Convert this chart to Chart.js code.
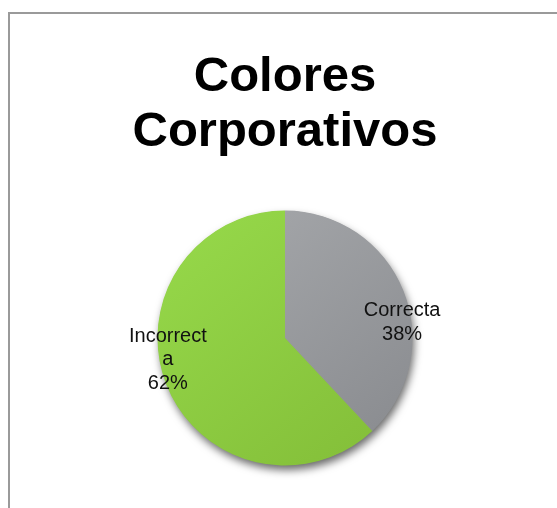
<!DOCTYPE html>
<html>
<head>
<meta charset="utf-8">
<script src="https://cdn.jsdelivr.net/npm/chart.js@4"></script>
<style>
  html, body { margin: 0; padding: 0; background: #fff; }
  #wrap { position: relative; width: 557px; height: 508px; overflow: hidden; }
  #frame { position: absolute; left: 8px; top: 12px; width: 700px; height: 700px;
           border-left: 2px solid #9a9a9a; border-top: 2px solid #9a9a9a; }
  canvas { position: absolute; left: 0; top: 0; }
</style>
</head>
<body>
<div id="wrap">
  <div id="frame"></div>
  <canvas id="c" width="557" height="508"></canvas>
</div>
<script>
// Survey result: were the corporate colours used correctly?
const titleLines = ['Colores', 'Corporativos'];
const categories = ['Correcta', 'Incorrecta'];
const values = [38, 62];
const baseColors = [['#a9abae', '#8a8c90'], ['#97da4b', '#84bf39']];

const FONT = "'Liberation Sans', Arial, sans-serif";

// Gradient fill per slice, spanning the pie's bounding square
function sliceFill(context) {
  const chart = context.chart;
  const area = chart.chartArea;
  const pair = baseColors[context.dataIndex];
  if (!area) return pair[0];
  const cx = (area.left + area.right) / 2;
  const cy = (area.top + area.bottom) / 2;
  const r = Math.min(area.width, area.height) / 2;
  const g = chart.ctx.createLinearGradient(cx - r, cy - r, cx + r * 0.6, cy + r);
  g.addColorStop(0, pair[0]);
  g.addColorStop(1, pair[1]);
  return g;
}

// Soft drop shadow behind the whole pie
const pieShadow = {
  id: 'pieShadow',
  beforeDatasetsDraw(chart) {
    const arc = chart.getDatasetMeta(0).data[0];
    if (!arc) return;
    const { x, y, outerRadius } = arc.getProps(['x', 'y', 'outerRadius'], true);
    const ctx = chart.ctx;
    ctx.save();
    ctx.shadowColor = 'rgba(0,0,0,0.6)';
    ctx.shadowBlur = 9;
    ctx.shadowOffsetX = 2;
    ctx.shadowOffsetY = 5;
    ctx.beginPath();
    ctx.arc(x, y, outerRadius - 0.5, 0, Math.PI * 2);
    ctx.fillStyle = '#8f9194';
    ctx.fill();
    ctx.restore();
  }
};

// Break a label into lines no wider than maxWidth, splitting inside words if needed
function wrapChars(ctx, text, maxWidth) {
  const lines = [];
  let cur = '';
  for (const ch of text) {
    if (cur && ctx.measureText(cur + ch).width > maxWidth) {
      lines.push(cur);
      cur = ch;
    } else {
      cur += ch;
    }
  }
  if (cur) lines.push(cur);
  return lines;
}

// Category name and percentage written inside each slice
const sliceLabels = {
  id: 'sliceLabels',
  afterDatasetsDraw(chart) {
    const meta = chart.getDatasetMeta(0);
    const data = chart.data.datasets[0].data;
    const total = data.reduce((a, b) => a + b, 0);
    const ctx = chart.ctx;
    ctx.save();
    ctx.font = '20px ' + FONT;
    ctx.fillStyle = '#111';
    ctx.textAlign = 'center';
    ctx.textBaseline = 'middle';
    const lineH = 23.5;
    meta.data.forEach((arc, i) => {
      const p = arc.getProps(['x', 'y', 'startAngle', 'endAngle', 'outerRadius'], true);
      const mid = (p.startAngle + p.endAngle) / 2 + 0.22;
      const d = p.outerRadius * 0.93;
      const lx = p.x + Math.cos(mid) * d;
      const ly = p.y + Math.sin(mid) * d + 3;
      const lines = wrapChars(ctx, chart.data.labels[i], 85);
      lines.push(Math.round(data[i] / total * 100) + '%');
      const y0 = ly - (lines.length - 1) * lineH / 2;
      lines.forEach((t, k) => ctx.fillText(t, lx, y0 + k * lineH));
    });
    ctx.restore();
  }
};

new Chart(document.getElementById('c'), {
  type: 'pie',
  data: {
    labels: categories,
    datasets: [{
      data: values,
      backgroundColor: sliceFill,
      borderWidth: 0,
      hoverOffset: 0
    }]
  },
  options: {
    responsive: false,
    animation: false,
    layout: { padding: { top: 0, left: 13, right: 0, bottom: 42.5 } },
    plugins: {
      legend: { display: false },
      tooltip: { enabled: false },
      title: {
        display: true,
        text: titleLines,
        color: '#000',
        font: { family: FONT, size: 49, weight: 'bold', lineHeight: 55 / 49 },
        padding: { top: 50, bottom: 50.5 }
      }
    }
  },
  plugins: [pieShadow, sliceLabels]
});
</script>
</body>
</html>
